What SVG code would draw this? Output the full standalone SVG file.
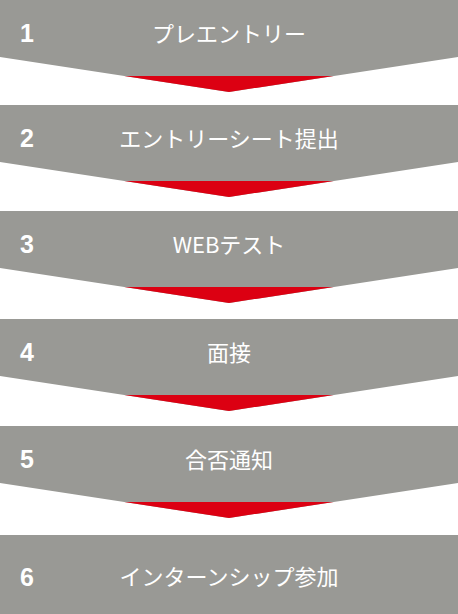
<svg xmlns="http://www.w3.org/2000/svg" width="458" height="614" viewBox="0 0 458 614">
<style>
.box{fill:#999995}
.arrow{fill:#dc0012}
.num{font-family:"Liberation Sans",Arial,sans-serif;font-weight:bold;font-size:25px;fill:#ffffff}
.lbl{font-family:"Noto Sans CJK JP","Noto Sans",sans-serif;font-size:22px;fill:#ffffff;text-anchor:middle}
</style>
<defs>
<polygon id="chev" points="0,0 458,0 458,57 229,92 0,57"/>
<polygon id="tip" points="124.3,76 333.7,76 229,92"/>
</defs>
<rect width="458" height="614" fill="#ffffff"/>
<g id="step1">
<use href="#chev" class="box"/>
<text class="num" x="20" y="42">1</text>
<text class="lbl" x="229" y="42">プレエントリー</text>
</g>
<g id="step2" transform="translate(0,105)">
<use href="#chev" class="box"/>
<text class="num" x="20" y="42">2</text>
<text class="lbl" x="229" y="42">エントリーシート提出</text>
</g>
<g id="step3" transform="translate(0,211)">
<use href="#chev" class="box"/>
<text class="num" x="20" y="42">3</text>
<text class="lbl" x="229" y="42">WEBテスト</text>
</g>
<g id="step4" transform="translate(0,319)">
<use href="#chev" class="box"/>
<text class="num" x="20" y="42">4</text>
<text class="lbl" x="229" y="42">面接</text>
</g>
<g id="step5" transform="translate(0,426)">
<use href="#chev" class="box"/>
<text class="num" x="20" y="42">5</text>
<text class="lbl" x="229" y="42">合否通知</text>
</g>
<g id="step6">
<rect class="box" x="0" y="535" width="458" height="79"/>
<text class="num" x="20" y="586">6</text>
<text class="lbl" x="229" y="585">インターンシップ参加</text>
</g>
<g id="connectors">
<use href="#tip" class="arrow"/>
<use href="#tip" class="arrow" transform="translate(0,105)"/>
<use href="#tip" class="arrow" transform="translate(0,211)"/>
<use href="#tip" class="arrow" transform="translate(0,319)"/>
<use href="#tip" class="arrow" transform="translate(0,426)"/>
</g>
</svg>
